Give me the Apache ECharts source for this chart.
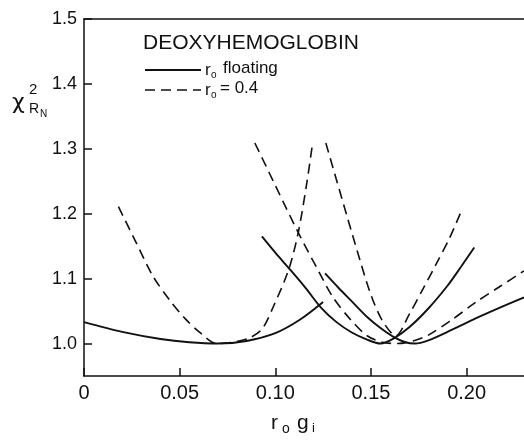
<!DOCTYPE html>
<html>
<head>
<meta charset="utf-8">
<script src="https://cdn.jsdelivr.net/npm/echarts@6/dist/echarts.min.js"></script>
<style>
html,body{margin:0;padding:0;background:#fff;}
#chart{width:524px;height:441px;}
</style>
</head>
<body>
<div id="chart"></div>
<script>
// ---- data ----
const xTicks = [0, 0.05, 0.10, 0.15, 0.20];
const xTickLabels = ['0', '0.05', '0.10', '0.15', '0.20'];
const yTicks = [1.0, 1.1, 1.2, 1.3, 1.4, 1.5];
const yTickLabels = ['1.0', '1.1', '1.2', '1.3', '1.4', '1.5'];

// r0 floating (solid)
const float1X = [0, 0.02, 0.04, 0.055, 0.07, 0.085, 0.10, 0.113, 0.125];
const float1Y = [1.033, 1.018, 1.007, 1.002, 1.000, 1.004, 1.016, 1.037, 1.064];
const float2X = [0.093, 0.100, 0.108, 0.116, 0.124, 0.132, 0.140, 0.148, 0.155, 0.162, 0.170, 0.180, 0.190, 0.197, 0.204];
const float2Y = [1.165, 1.140, 1.113, 1.085, 1.055, 1.033, 1.017, 1.006, 1.000, 1.008, 1.025, 1.054, 1.089, 1.118, 1.148];
const float3X = [0.126, 0.133, 0.140, 0.148, 0.155, 0.162, 0.168, 0.173, 0.180, 0.190, 0.205, 0.218, 0.23];
const float3Y = [1.108, 1.086, 1.065, 1.041, 1.024, 1.010, 1.002, 1.000, 1.005, 1.018, 1.039, 1.056, 1.071];

// r0 = 0.4 (dashed)
const fixedAX = [0.018, 0.027, 0.036, 0.045, 0.053, 0.061, 0.0695, 0.078, 0.086, 0.093, 0.099, 0.107, 0.112, 0.1165, 0.1196];
const fixedAY = [1.211, 1.157, 1.104, 1.066, 1.038, 1.016, 1.000, 1.002, 1.008, 1.022, 1.057, 1.114, 1.171, 1.248, 1.311];
const fixedBX = [0.0893, 0.097, 0.105, 0.113, 0.122, 0.130, 0.139, 0.148, 0.156, 0.164, 0.172, 0.180, 0.192, 0.205, 0.218, 0.23];
const fixedBY = [1.309, 1.262, 1.213, 1.165, 1.115, 1.072, 1.038, 1.012, 1.002, 1.000, 1.004, 1.013, 1.036, 1.064, 1.089, 1.112];
const fixedCX = [0.1264, 0.132, 0.138, 0.144, 0.150, 0.156, 0.163, 0.170, 0.177, 0.184, 0.191, 0.1975];
const fixedCY = [1.309, 1.252, 1.191, 1.131, 1.075, 1.035, 1.012, 1.045, 1.083, 1.122, 1.162, 1.206];

const zip = (xs, ys) => xs.map((x, i) => [x, ys[i]]);

const FONT = "'Liberation Sans', Arial, sans-serif";
const INK = '#111';

function lineSeries(xs, ys, dashed) {
  return {
    type: 'line',
    data: zip(xs, ys),
    showSymbol: false,
    smooth: 0.3,
    silent: true,
    lineStyle: {
      color: INK,
      width: dashed ? 1.6 : 1.9,
      type: dashed ? [10, 6] : 'solid'
    }
  };
}

const chart = echarts.init(document.getElementById('chart'), null, {renderer: 'canvas'});
chart.setOption({
  animation: false,
  backgroundColor: '#fff',
  grid: {left: 84, right: 0, top: 19, bottom: 65, containLabel: false},
  xAxis: [{
    type: 'value', min: 0, max: 0.23,
    axisLine: {show: true, onZero: false, lineStyle: {color: INK, width: 1.5}},
    axisTick: {show: true, inside: true, length: 8, customValues: xTicks, lineStyle: {color: INK, width: 1.5}},
    axisLabel: {
      customValues: xTicks, margin: 7, color: INK, fontFamily: FONT, fontSize: 20,
      formatter: v => { const i = xTicks.findIndex(t => Math.abs(t - v) < 1e-9); return i >= 0 ? xTickLabels[i] : ''; }
    },
    splitLine: {show: false}
  }, {
    type: 'value', min: 0, max: 0.23, position: 'top',
    axisLine: {show: true, onZero: false, lineStyle: {color: INK, width: 1.5}},
    axisTick: {show: false}, axisLabel: {show: false}, splitLine: {show: false}
  }],
  yAxis: {
    type: 'value', min: 0.95, max: 1.5,
    axisLine: {show: true, onZero: false, lineStyle: {color: INK, width: 1.5}},
    axisTick: {show: true, inside: true, length: 8, customValues: yTicks, lineStyle: {color: INK, width: 1.5}},
    axisLabel: {
      customValues: yTicks, margin: 7, color: INK, fontFamily: FONT, fontSize: 18,
      formatter: v => { const i = yTicks.findIndex(t => Math.abs(t - v) < 1e-9); return i >= 0 ? yTickLabels[i] : ''; }
    },
    splitLine: {show: false}
  },
  series: [
    lineSeries(float1X, float1Y, false),
    lineSeries(float2X, float2Y, false),
    lineSeries(float3X, float3Y, false),
    lineSeries(fixedAX, fixedAY, true),
    lineSeries(fixedBX, fixedBY, true),
    lineSeries(fixedCX, fixedCY, true)
  ],
  graphic: [
    // y-axis title  χ²_{R_N}
    {type: 'text', left: 12, top: 92, style: {text: 'χ', font: "22px 'DejaVu Sans', sans-serif", fill: INK}},
    {type: 'text', left: 29, top: 82, style: {text: '2', font: "15px " + FONT, fill: INK}},
    {type: 'text', left: 29, top: 102, style: {text: 'R', font: "14px " + FONT, fill: INK}},
    {type: 'text', left: 40, top: 109, style: {text: 'N', font: "10px " + FONT, fill: INK}},
    // x-axis title  r₀ gᵢ
    {type: 'text', left: 271, top: 413, style: {text: 'r', font: "21px " + FONT, fill: INK}},
    {type: 'text', left: 282, top: 422, style: {text: 'o', font: "14px " + FONT, fill: INK}},
    {type: 'text', left: 297, top: 413, style: {text: 'g', font: "21px " + FONT, fill: INK}},
    {type: 'text', left: 312, top: 422, style: {text: 'i', font: "13px " + FONT, fill: INK}},
    // legend block
    {type: 'text', left: 143, top: 33, style: {text: 'DEOXYHEMOGLOBIN', font: "21px " + FONT, fill: INK}},
    {type: 'line', shape: {x1: 145, y1: 70, x2: 201, y2: 70}, style: {stroke: INK, lineWidth: 1.9}},
    {type: 'text', left: 205, top: 62, style: {text: 'r', font: "17px " + FONT, fill: INK}},
    {type: 'text', left: 211, top: 70, style: {text: 'o', font: "10px " + FONT, fill: INK}},
    {type: 'text', left: 223, top: 60, style: {text: 'floating', font: "17px " + FONT, fill: INK}},
    {type: 'line', shape: {x1: 145, y1: 90, x2: 201, y2: 90}, style: {stroke: INK, lineWidth: 1.6, lineDash: [10, 6]}},
    {type: 'text', left: 205, top: 82, style: {text: 'r', font: "17px " + FONT, fill: INK}},
    {type: 'text', left: 211, top: 90, style: {text: 'o', font: "10px " + FONT, fill: INK}},
    {type: 'text', left: 220, top: 80, style: {text: '= 0.4', font: "17px " + FONT, fill: INK}}
  ]
});
</script>
</body>
</html>
